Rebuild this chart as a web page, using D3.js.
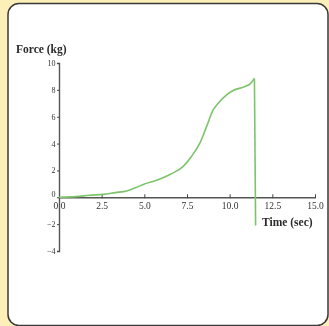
<!DOCTYPE html>
<html>
<head>
<meta charset="utf-8">
<script src="https://cdn.jsdelivr.net/npm/d3@7"></script>
<style>
  html, body { margin: 0; padding: 0; background: #fcf0b8; }
  svg { display: block; }
</style>
</head>
<body>
<script>
// Force recorded over time during a pull test
const timeSec = [0.0, 1.0, 1.8, 2.6, 3.3, 3.97, 4.5, 4.94, 5.72, 6.5, 7.28, 7.77, 8.26, 8.65, 9.04, 9.33, 9.82, 10.2, 10.8, 11.0, 11.2, 11.45, 11.52];
const forceKg = [0.0, 0.05, 0.15, 0.22, 0.35, 0.47, 0.72, 0.96, 1.26, 1.7, 2.3, 3.06, 4.05, 5.28, 6.52, 7.0, 7.63, 7.95, 8.2, 8.3, 8.45, 8.85, -2.1];
const xTicks = [0, 2.5, 5, 7.5, 10, 12.5, 15];
const yTicks = [10, 8, 6, 4, 2, 0, -2, -4];

const W = 329, H = 326;
const svg = d3.select("body").append("svg").attr("width", W).attr("height", H);

// white rounded panel
svg.append("rect")
  .attr("x", 8).attr("y", 3.5)
  .attr("width", 320).attr("height", 322)
  .attr("rx", 11).attr("ry", 11)
  .attr("fill", "#ffffff")
  .attr("stroke", "#3a3a3a").attr("stroke-width", 1.5);

const x = d3.scaleLinear().domain([0, 15]).range([59, 315]);
const y = d3.scaleLinear().domain([-4, 10]).range([251, 63]);

const font = "'Liberation Serif', 'DejaVu Serif', serif";
const g = svg.append("g").style("filter", "blur(0.35px)");

// x axis along force = 0
const xAxis = g.append("g")
  .attr("transform", `translate(0,${y(0)})`)
  .call(d3.axisBottom(x).tickValues(xTicks).tickFormat(d3.format(".1f")).tickSize(0).tickPadding(5));
xAxis.select(".domain").attr("stroke", "#555").attr("stroke-width", 1.4);
xAxis.selectAll(".tick").append("line")
  .attr("y1", -3).attr("y2", 1).attr("stroke", "#444");
xAxis.selectAll(".tick text")
  .attr("font-family", font).attr("font-size", 9.5).attr("fill", "#333");

// y axis at time = 0
const yAxis = g.append("g")
  .attr("transform", `translate(${x(0)},0)`)
  .call(d3.axisLeft(y).tickValues(yTicks).tickFormat(d3.format("d")).tickSize(2).tickPadding(1.5));
yAxis.select(".domain").attr("stroke", "#555").attr("stroke-width", 1.4);
yAxis.selectAll(".tick line").attr("stroke", "#444");
yAxis.selectAll(".tick text")
  .attr("font-family", font).attr("font-size", 8).attr("fill", "#333");
yAxis.selectAll(".tick").filter(d => d === 0).select("text").attr("dy", "-0.1em");

// force curve: smooth rise up to the peak, then a straight vertical release
const pts = timeSec.map((t, i) => [t, forceKg[i]]);
const peak = pts.length - 2;
const rise = d3.line()
  .x(d => x(d[0])).y(d => y(d[1]))
  .curve(d3.curveMonotoneX);
const drop = d3.line()
  .x(d => x(d[0])).y(d => y(d[1]));
const stroke = sel => sel
  .attr("fill", "none")
  .attr("stroke", "#7cc46a")
  .attr("stroke-width", 1.6)
  .attr("stroke-linejoin", "round");
g.append("path").datum(pts.slice(0, peak + 1)).attr("d", rise).call(stroke);
g.append("path").datum(pts.slice(peak)).attr("d", drop).call(stroke);

// axis titles
g.append("text")
  .attr("x", 16).attr("y", 53)
  .attr("font-family", font).attr("font-weight", "bold").attr("font-size", 11.5)
  .attr("fill", "#2a2a2a")
  .text("Force (kg)");
g.append("text")
  .attr("x", 262).attr("y", 226)
  .attr("font-family", font).attr("font-weight", "bold").attr("font-size", 11.5)
  .attr("fill", "#2a2a2a")
  .text("Time (sec)");
</script>
</body>
</html>
